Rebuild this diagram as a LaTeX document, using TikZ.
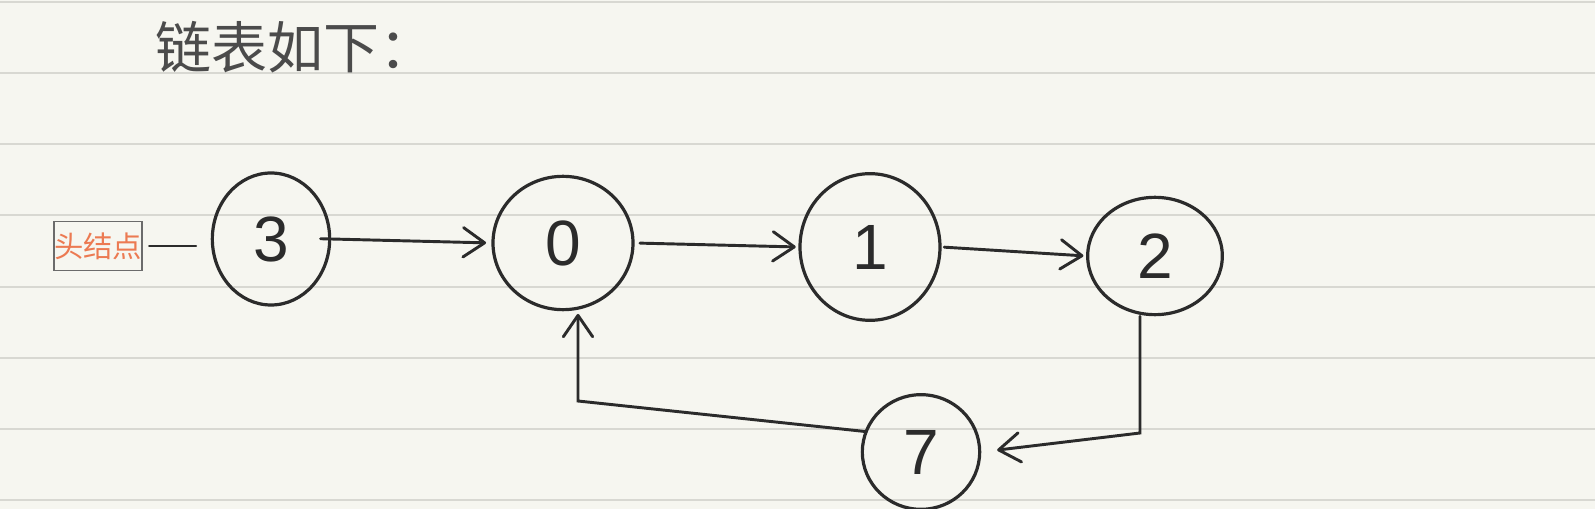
\documentclass[tikz,border=0pt]{standalone}
\usepackage{fontspec}
\setmainfont{Liberation Sans}
\newfontfamily\cjk{Noto Sans CJK SC}
\usetikzlibrary{shapes.geometric,arrows.meta}
\definecolor{paper}{RGB}{246,246,240}
\definecolor{rulegray}{RGB}{216,216,210}
\definecolor{ink}{RGB}{43,43,43}
\definecolor{headink}{RGB}{236,122,82}

\begin{document}
\begin{tikzpicture}[x=0.75pt,y=0.75pt,yscale=-1,xscale=1,
        ball/.style={ellipse,draw=ink,line width=2.4pt,inner sep=0pt,text=ink,font=\fontsize{48}{48}\selectfont},
        link/.style={draw=ink,line width=2.2pt,line cap=round,-{Straight Barb[length=16pt,width=22pt,round]}}]
        \useasboundingbox (0,0) rectangle (1595,509);
        \fill[paper] (0,0) rectangle (1595,509);
        \foreach \y in {2,73,144,215,287,358,429,500}
            \draw[rulegray,line width=2pt] (0,\y) -- (1595,\y);

        \node[text=ink!85,font=\cjk\fontsize{42}{42}\selectfont] (title) at (295,47) {链表如下：};
        \node[draw=ink!70,line width=0.8pt,minimum width=66pt,minimum height=37pt,inner sep=0pt,text=headink,font=\cjk\fontsize{22}{22}\selectfont] (head) at (98,246) {头结点};

        \node[ball,minimum width=88pt,minimum height=99pt] (n3) at (271,239) {3};
        \node[ball,minimum width=105pt,minimum height=100pt] (n0) at (563,243) {0};
        \node[ball,minimum width=105pt,minimum height=110pt] (n1) at (870,247) {1};
        \node[ball,minimum width=101pt,minimum height=88pt] (n2) at (1155,256) {2};
        \node[ball,minimum width=88pt,minimum height=86pt] (n7) at (921,452) {7};

        \coordinate (turn27) at (1140,433);
        \coordinate (turn70) at (578,401);

        \draw[draw=ink,line width=1.6pt,line cap=round,shorten <=5pt,shorten >=11pt] (head.east) -- (head.east -| n3.west);
        \draw[link,shorten <=-8pt,shorten >=4pt] (n3.east) -- (n0.west);
        \draw[link,shorten <=4pt,shorten >=2pt] (n0.east) -- (n1.west);
        \draw[link,shorten <=2pt,shorten >=2pt] (n1.east) -- (n2.west);
        \draw[link,shorten >=12pt] (turn27 |- n2.south) -- (turn27) -- (n7.east);
        \draw[link,shorten >=2pt] (n7.160) -- (turn70) -- (turn70 |- n0.south);
\end{tikzpicture}
\end{document}
